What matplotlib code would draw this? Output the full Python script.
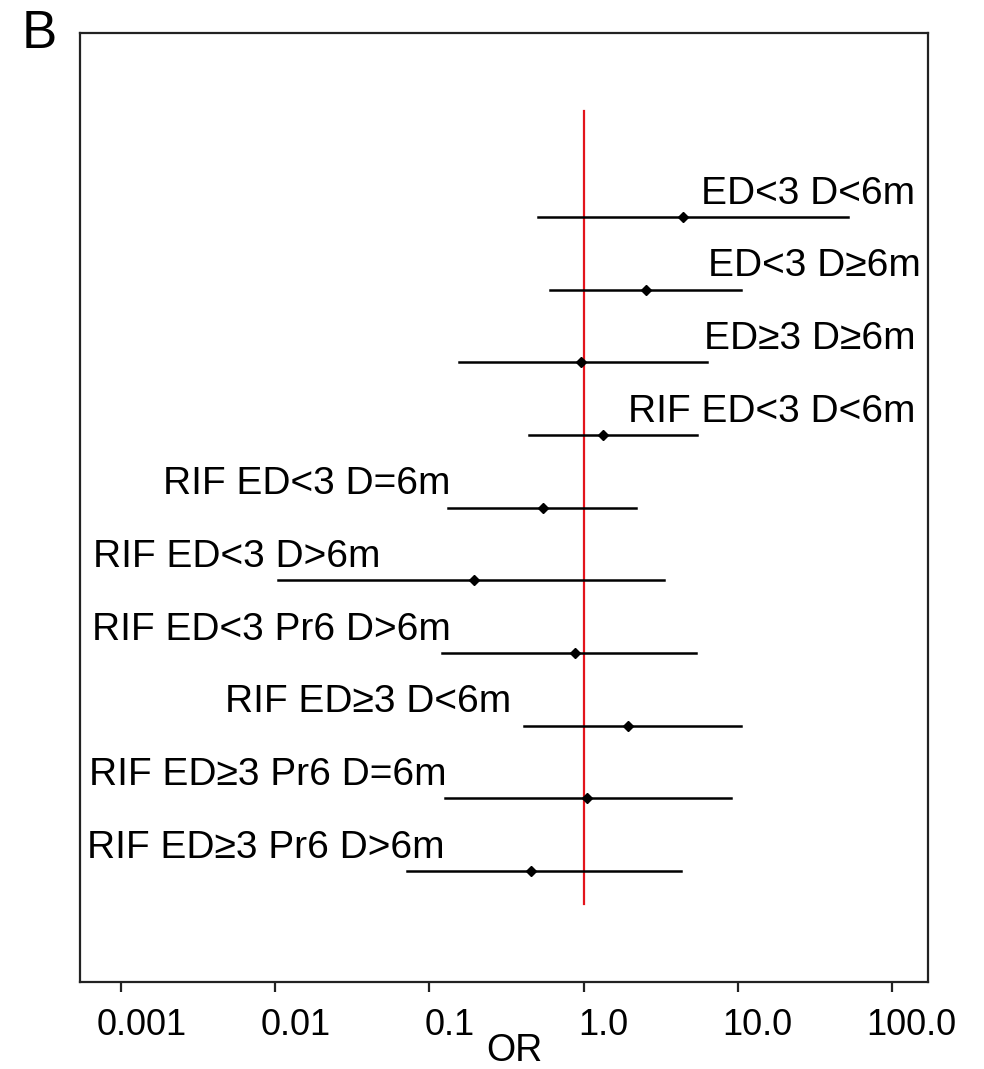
import matplotlib
matplotlib.use("Agg")
import matplotlib.pyplot as plt
import matplotlib.transforms as mtransforms

plt.rcParams['font.family'] = ['Liberation Sans', 'DejaVu Sans']

# Forest plot data (top row first): odds ratio with 95% CI
labels = [
    'ED<3 D<6m',
    'ED<3 D≥6m',
    'ED≥3 D≥6m',
    'RIF ED<3 D<6m',
    'RIF ED<3 D=6m',
    'RIF ED<3 D>6m',
    'RIF ED<3 Pr6 D>6m',
    'RIF ED≥3 D<6m',
    'RIF ED≥3 Pr6 D=6m',
    'RIF ED≥3 Pr6 D>6m',
]
or_est = [4.43, 2.55, 0.96, 1.34, 0.545, 0.195, 0.88, 1.94, 1.05, 0.456]
ci_low = [0.507, 0.61, 0.155, 0.44, 0.132, 0.0104, 0.12, 0.41, 0.126, 0.071]
ci_high = [52.0, 10.5, 6.3, 5.46, 2.19, 3.33, 5.38, 10.5, 9.07, 4.3]

xticks = [0.001, 0.01, 0.1, 1.0, 10.0, 100.0]
xtick_labels = ['0.001', '0.01', '0.1', '1.0', '10.0', '100.0']

# label placement (axes fraction), right-aligned for the top four rows
label_x = [0.985, 0.992, 0.985, 0.985, 0.098, 0.015, 0.014, 0.171, 0.011, 0.008]
label_ha = ['right'] * 4 + ['left'] * 6

fig = plt.figure(figsize=(9.84, 10.69), dpi=100)
ax = fig.add_axes([80 / 984, 87 / 1069, 848 / 984, 949 / 1069])

n = len(labels)
rows = list(range(n, 0, -1))

ax.axvline(1.0, ymin=(0.55 + 0.527) / 13.057, ymax=(11.46 + 0.527) / 13.057,
           color='#e3141c', lw=1.6, zorder=1)

for y, est, lo, hi, lab, lx, ha in zip(rows, or_est, ci_low, ci_high, labels, label_x, label_ha):
    ax.plot([lo, hi], [y, y], color='black', lw=1.8, zorder=2)
    ax.plot(est, y, marker='D', color='black', markersize=5.5, zorder=3)
    ax.annotate(lab, xy=(lx, y), xycoords=('axes fraction', 'data'),
                xytext=(0, 9.5), textcoords='offset points',
                ha=ha, va='baseline', fontsize=28, color='black')

ax.set_xscale('log')
ax.set_xlim(0.000538, 172.5)
ax.set_ylim(-0.527, 12.53)
ax.minorticks_off()
ax.set_xticks(xticks)
ax.set_xticklabels(xtick_labels, fontsize=26, color='black')
ax.set_yticks([])
ax.tick_params(axis='x', length=7, width=1.6, pad=12, color='#222222')
for sp in ax.spines.values():
    sp.set_linewidth(1.6)
    sp.set_color('#222222')

shift = mtransforms.ScaledTranslation(0.2, 0, fig.dpi_scale_trans)
for t in ax.get_xticklabels():
    t.set_transform(t.get_transform() + shift)

fig.text(514 / 984, 1 - 1051 / 1069, 'OR', fontsize=27, ha='center', va='center',
         color='black')
fig.text(22 / 984, 1 - 48 / 1069, 'B', fontsize=38, ha='left', va='baseline',
         color='black')

fig.savefig('out.png', dpi=100)
